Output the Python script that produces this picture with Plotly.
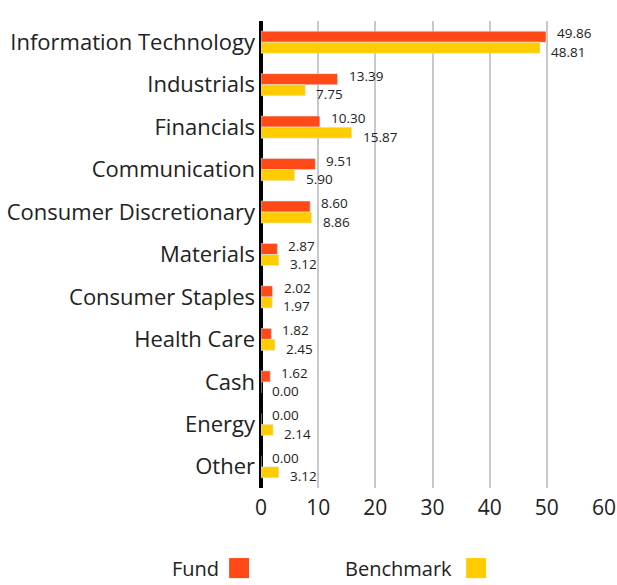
import plotly.graph_objects as go

categories = ["Information Technology", "Industrials", "Financials", "Communication",
              "Consumer Discretionary", "Materials", "Consumer Staples", "Health Care",
              "Cash", "Energy", "Other"]
fund = [49.86, 13.39, 10.30, 9.51, 8.60, 2.87, 2.02, 1.82, 1.62, 0.00, 0.00]
benchmark = [48.81, 7.75, 15.87, 5.90, 8.86, 3.12, 1.97, 2.45, 0.00, 2.14, 3.12]
x_ticks = [0, 10, 20, 30, 40, 50, 60]

FUND_COLOR = "#FF4A17"
BENCH_COLOR = "#FFCC00"
FONT = "Open Sans"

fig = go.Figure()
fig.add_trace(go.Bar(y=categories, x=fund, name="Fund", orientation="h",
                     marker_color=FUND_COLOR))
fig.add_trace(go.Bar(y=categories, x=benchmark, name="Benchmark", orientation="h",
                     marker_color=BENCH_COLOR))

annotations = []
for c, f, b in zip(categories, fund, benchmark):
    annotations.append(dict(x=f, y=c, text=f"{f:.2f}", showarrow=False, xanchor="left",
                            xshift=9, yshift=9, font=dict(size=13.5, color="#222", family=FONT)))
    annotations.append(dict(x=b, y=c, text=f"{b:.2f}", showarrow=False, xanchor="left",
                            xshift=9, yshift=-9.5, font=dict(size=13.5, color="#222", family=FONT)))

# legend (text before swatch)
annotations.append(dict(xref="paper", yref="paper", x=-0.265, y=-0.172, text="Fund",
                        showarrow=False, xanchor="left", yanchor="middle",
                        font=dict(size=20, color="#222", family=FONT)))
annotations.append(dict(xref="paper", yref="paper", x=0.24, y=-0.172, text="Benchmark",
                        showarrow=False, xanchor="left", yanchor="middle",
                        font=dict(size=20, color="#222", family=FONT)))
shapes = [
    dict(type="rect", xref="paper", yref="paper", x0=-0.093, x1=-0.035, y0=-0.193, y1=-0.15,
         fillcolor=FUND_COLOR, line_width=0),
    dict(type="rect", xref="paper", yref="paper", x0=0.598, x1=0.656, y0=-0.193, y1=-0.15,
         fillcolor=BENCH_COLOR, line_width=0),
]

fig.update_layout(
    width=617, height=585,
    margin=dict(l=261, r=13, t=21, b=97, autoexpand=False),
    barmode="group", bargap=0.48, bargroupgap=0,
    plot_bgcolor="white", paper_bgcolor="white",
    showlegend=False,
    font=dict(family=FONT, size=20, color="#222"),
    annotations=annotations, shapes=shapes,
)
fig.update_xaxes(range=[0, 60], tickvals=x_ticks, showgrid=True, gridcolor="#c8c8c8",
                 gridwidth=2, zeroline=True, zerolinecolor="black", zerolinewidth=4,
                 ticks="", tickfont=dict(size=21), showline=False, automargin=False,
                 ticklabelstandoff=5)
fig.update_yaxes(autorange="reversed", ticks="", tickfont=dict(size=22), showgrid=False,
                 automargin=False, ticklabelstandoff=5)

fig.write_html("out.html", config={"displayModeBar": False},
               post_script="document.body.style.margin='0';document.body.style.overflow='hidden';")
